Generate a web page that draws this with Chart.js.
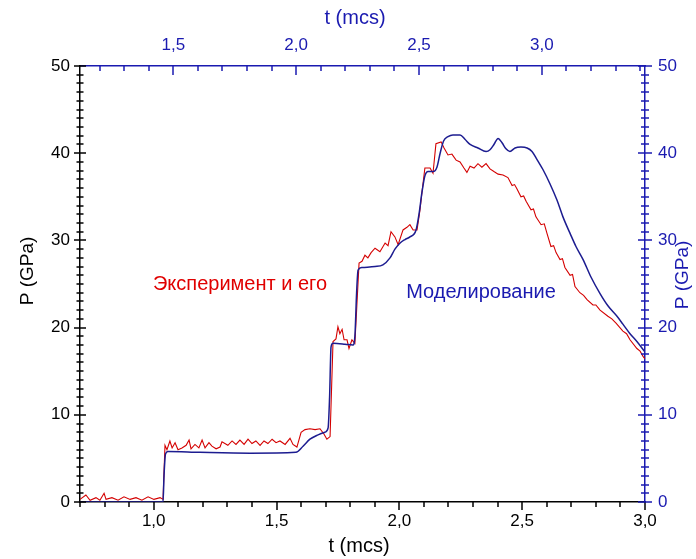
<!DOCTYPE html>
<html>
<head>
<meta charset="utf-8">
<script src="https://cdn.jsdelivr.net/npm/chart.js@4.4.1/dist/chart.umd.min.js"></script>
<style>
  html, body { margin: 0; padding: 0; background: #fff; }
  #chart { display: block; }
</style>
</head>
<body>
<canvas id="chart" width="696" height="559"></canvas>
<script>
// experiment (red), t in mcs, P in GPa
const tExp = [0.700, 0.724, 0.741, 0.765, 0.781, 0.798, 0.806, 0.830, 0.855, 0.879, 0.904, 0.928, 0.952, 0.977, 1.001, 1.026, 1.038,
  1.046, 1.054, 1.066, 1.075, 1.087, 1.099, 1.115, 1.132, 1.144, 1.152, 1.168, 1.184, 1.197, 1.209, 1.225, 1.237, 1.254, 1.270,
  1.278, 1.302, 1.319, 1.335, 1.351, 1.368, 1.384, 1.400, 1.416, 1.433, 1.449, 1.465, 1.482, 1.498, 1.514, 1.535, 1.555, 1.567,
  1.583, 1.600, 1.616, 1.636, 1.657, 1.677, 1.693, 1.705, 1.718, 1.730, 1.742, 1.750, 1.758, 1.767, 1.775, 1.787, 1.795, 1.807,
  1.819, 1.836, 1.848, 1.860, 1.872, 1.885, 1.901, 1.921, 1.942, 1.954, 1.966, 1.982, 1.995, 2.015, 2.031, 2.043, 2.056, 2.072,
  2.084, 2.092, 2.104, 2.125, 2.137, 2.149, 2.170, 2.182, 2.198, 2.214, 2.231, 2.247, 2.263, 2.275, 2.288, 2.304, 2.320, 2.336,
  2.353, 2.369, 2.385, 2.402, 2.422, 2.442, 2.459, 2.469, 2.479, 2.495, 2.506, 2.516, 2.536, 2.546, 2.556, 2.577, 2.590, 2.601,
  2.617, 2.628, 2.638, 2.654, 2.664, 2.674, 2.695, 2.705, 2.715, 2.735, 2.750, 2.764, 2.788, 2.800, 2.817, 2.849, 2.865, 2.882,
  2.910, 2.925, 2.939, 2.967, 2.980, 2.992, 3.000];
const pExp = [0.3, 0.8, 0.2, 0.5, 0.2, 1.0, 0.3, 0.5, 0.2, 0.6, 0.3, 0.5, 0.2, 0.6, 0.3, 0.5, 0.3,
  6.5, 6.0, 7.0, 6.2, 6.8, 6.0, 6.2, 6.5, 7.1, 6.1, 6.6, 6.2, 7.1, 6.2, 6.8, 6.4, 6.1, 6.3,
  6.9, 6.5, 7.0, 6.6, 7.1, 6.6, 7.2, 6.7, 7.0, 6.5, 7.0, 6.7, 7.2, 6.8, 7.0, 6.6, 7.3, 6.6,
  6.3, 8.0, 8.3, 8.4, 8.3, 8.4, 7.8, 7.2, 7.5, 18.4, 18.7, 20.1, 19.3, 19.8, 18.6, 18.6, 17.6, 18.6,
  18.2, 27.4, 27.6, 28.3, 28.0, 28.6, 29.1, 28.7, 29.7, 29.4, 31.0, 30.4, 29.5, 31.2, 31.5, 31.8, 31.2, 31.2,
  33.5, 35.5, 38.3, 38.3, 37.7, 41.1, 41.3, 40.6, 39.8, 39.9, 39.2, 39.0, 38.3, 37.8, 38.5, 38.3, 38.8, 38.4,
  38.8, 38.2, 37.9, 37.6, 37.5, 37.2, 36.3, 36.4, 35.9, 35.0, 35.1, 34.5, 33.5, 33.6, 32.7, 31.8, 31.9, 30.8,
  29.3, 29.4, 28.6, 27.8, 27.9, 26.9, 26.0, 26.1, 24.7, 24.0, 23.7, 23.2, 22.6, 22.6, 22.0, 21.3, 21.0, 20.5,
  19.6, 19.3, 18.6, 17.6, 17.3, 16.7, 16.4];

// modelling (blue)
const tMod = [0.700, 1.038, 1.042, 1.048, 1.058, 1.188, 1.392, 1.579, 1.608, 1.636, 1.669, 1.697, 1.710, 1.716, 1.722, 1.730,
  1.779, 1.811, 1.819, 1.826, 1.832, 1.848, 1.901, 1.933, 1.962, 1.982, 2.003, 2.023, 2.043, 2.068, 2.080, 2.092, 2.104,
  2.117, 2.137, 2.153, 2.166, 2.180, 2.198, 2.218, 2.247, 2.267, 2.288, 2.320, 2.353, 2.369, 2.385, 2.402, 2.418, 2.434,
  2.450, 2.471, 2.495, 2.520, 2.540, 2.560, 2.585, 2.613, 2.642, 2.666, 2.695, 2.719, 2.748, 2.780, 2.817, 2.849, 2.886,
  2.910, 2.939, 2.967, 3.000];
const pMod = [0, 0, 3.0, 5.5, 5.8, 5.7, 5.6, 5.7, 6.4, 7.2, 7.7, 8.0, 8.5, 12.0, 17.8, 18.2,
  18.1, 18.0, 19.0, 24.0, 26.6, 26.9, 27.0, 27.2, 28.0, 29.0, 29.7, 30.1, 30.4, 31.2, 33.0, 35.5, 37.4,
  37.9, 37.9, 38.4, 40.0, 41.4, 41.9, 42.1, 42.1, 41.6, 41.0, 40.6, 40.2, 40.4, 41.0, 41.7, 41.2, 40.5,
  40.2, 40.6, 40.7, 40.6, 40.2, 39.3, 38.1, 36.5, 34.6, 32.7, 30.8, 29.3, 27.8, 25.8, 23.9, 22.5, 21.3,
  20.4, 19.3, 18.4, 17.2];

const bottomTicks = [1.0, 1.5, 2.0, 2.5, 3.0];
const topTicks = [1.5, 2.0, 2.5, 3.0];
const pTicks = [0, 10, 20, 30, 40, 50];

const RED = '#d40000';
const NAVY = '#1c1c90';
const BLUE = '#1a1ab0';
const FONT = '"Liberation Sans", Arial, sans-serif';

function fmt(v) {
  return v.toFixed(1).replace('.', ',');
}

function line(ctx, x1, y1, x2, y2) {
  ctx.beginPath();
  ctx.moveTo(x1, y1);
  ctx.lineTo(x2, y2);
  ctx.stroke();
}

// tick marks: majors longer, minors shorter, like the original plot
const tickMarks = {
  id: 'tickMarks',
  afterDraw(chart) {
    const ctx = chart.ctx;
    const a = chart.chartArea;
    const s = chart.scales;
    ctx.save();
    ctx.lineWidth = 1.5;

    ctx.strokeStyle = '#000';
    for (let i = 7; i <= 30; i++) {
      const x = Math.round(s.x.getPixelForValue(i / 10));
      line(ctx, x, a.bottom, x, a.bottom + (i % 5 === 0 ? 8 : 5));
    }
    for (let i = 0; i <= 50; i++) {
      const y = Math.round(s.y.getPixelForValue(i));
      const h = i % 10 === 0 ? 6 : 3.5;
      line(ctx, a.left - h, y, a.left + h, y);
    }

    ctx.strokeStyle = BLUE;
    for (let i = 12; i <= 34; i++) {
      const x = Math.round(s.x2.getPixelForValue(i / 10));
      line(ctx, x, a.top, x, a.top + (i % 5 === 0 ? 9 : 5));
    }
    for (let i = 0; i <= 50; i++) {
      const y = Math.round(s.y2.getPixelForValue(i));
      const h = i % 10 === 0 ? 7 : 4;
      line(ctx, a.right - h, y, a.right + h, y);
    }
    ctx.restore();
  }
};

// axis titles and the two captions
const captions = {
  id: 'captions',
  afterDraw(chart) {
    const ctx = chart.ctx;
    ctx.save();
    ctx.textAlign = 'center';
    ctx.textBaseline = 'middle';
    ctx.font = '20px ' + FONT;

    ctx.fillStyle = '#000';
    ctx.fillText('t (mcs)', 359, 546);
    ctx.fillStyle = BLUE;
    ctx.fillText('t (mcs)', 355, 18);

    ctx.font = '19px ' + FONT;
    ctx.save();
    ctx.translate(28, 271);
    ctx.rotate(-Math.PI / 2);
    ctx.fillStyle = '#000';
    ctx.fillText('P (GPa)', 0, 0);
    ctx.restore();

    ctx.save();
    ctx.translate(683, 275);
    ctx.rotate(-Math.PI / 2);
    ctx.fillStyle = BLUE;
    ctx.fillText('P (GPa)', 0, 0);
    ctx.restore();

    ctx.font = '20px ' + FONT;
    ctx.fillStyle = '#e00000';
    ctx.fillText('Эксперимент и его', 240, 284);
    ctx.fillStyle = BLUE;
    ctx.fillText('Моделирование', 481, 292);
    ctx.restore();
  }
};

function axis(position, min, max, majors, color, size, pad, label) {
  const horizontal = position === 'top' || position === 'bottom';
  return {
    type: 'linear',
    position: position,
    min: min,
    max: max,
    grid: { display: false, drawTicks: false },
    border: { display: true, color: color, width: 1.5 },
    afterBuildTicks: sc => { sc.ticks = majors.map(v => ({ value: v })); },
    afterFit: sc => { if (horizontal) sc.height = size; else sc.width = size; },
    ticks: {
      color: color,
      font: { family: FONT, size: 17 },
      padding: pad,
      autoSkip: false,
      maxRotation: 0,
      callback: label
    }
  };
}

new Chart(document.getElementById('chart'), {
  type: 'line',
  data: {
    datasets: [
      {
        label: 'Моделирование',
        data: tMod.map((t, i) => ({ x: t, y: pMod[i] })),
        xAxisID: 'x',
        yAxisID: 'y',
        borderColor: NAVY,
        borderWidth: 1.5,
        cubicInterpolationMode: 'monotone',
        pointRadius: 0
      },
      {
        label: 'Эксперимент',
        data: tExp.map((t, i) => ({ x: t, y: pExp[i] })),
        xAxisID: 'x',
        yAxisID: 'y',
        borderColor: RED,
        borderWidth: 1.1,
        tension: 0,
        pointRadius: 0
      }
    ]
  },
  options: {
    responsive: false,
    animation: false,
    devicePixelRatio: 1,
    layout: { padding: 0 },
    plugins: { legend: { display: false }, tooltip: { enabled: false } },
    scales: {
      x: axis('bottom', 0.7, 3.0, bottomTicks, '#000', 57, 9, v => fmt(v)),
      x2: axis('top', 1.12, 3.42, topTicks, BLUE, 66, 10, v => fmt(v)),
      y: axis('left', 0, 50, pTicks, '#000', 80, 10, v => String(v)),
      y2: axis('right', 0, 50, pTicks, BLUE, 51, 13, v => String(v))
    }
  },
  plugins: [tickMarks, captions]
});
</script>
</body>
</html>
